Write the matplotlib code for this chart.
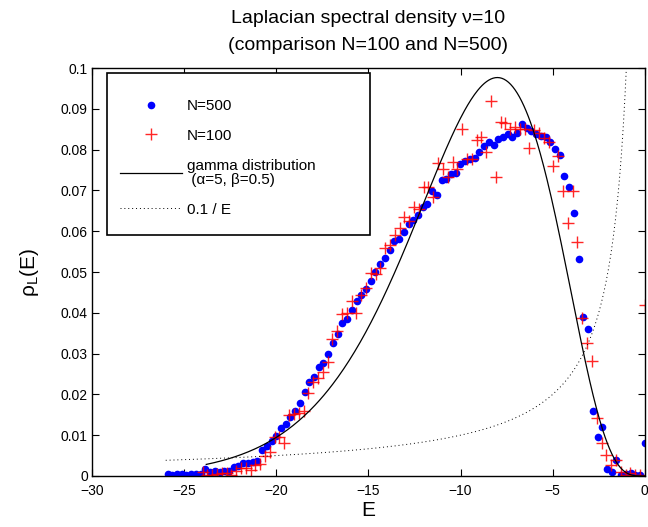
import numpy as np
import matplotlib
matplotlib.use("Agg")
import matplotlib.pyplot as plt
from matplotlib.patches import Rectangle
from math import gamma as gamma_fn

plt.rcParams['font.family'] = ['Liberation Sans', 'DejaVu Sans']
plt.rcParams['mathtext.fontset'] = 'custom'
plt.rcParams['mathtext.rm'] = 'Liberation Sans'
plt.rcParams['mathtext.it'] = 'Liberation Sans'

# ---- data ----
E500 = np.linspace(-25.9, 0.0, 102)
rho500 = [0.0004, 0.0003, 0.0004, 0.0004, 0.0003, 0.0004, 0.0004, 0.0005, 0.0016, 0.0010,
          0.0011, 0.0010, 0.0012, 0.0013, 0.0023, 0.0025, 0.0031, 0.0033, 0.0035, 0.0036,
          0.0064, 0.0074, 0.0085, 0.0098, 0.0118, 0.0127, 0.0145, 0.0160, 0.0180, 0.0205,
          0.0230, 0.0243, 0.0268, 0.0278, 0.0298, 0.0326, 0.0348, 0.0375, 0.0385, 0.0408,
          0.0428, 0.0444, 0.0458, 0.0478, 0.0500, 0.0520, 0.0535, 0.0555, 0.0577, 0.0580,
          0.0598, 0.0618, 0.0628, 0.0640, 0.0660, 0.0667, 0.0698, 0.0690, 0.0725, 0.0728,
          0.0740, 0.0743, 0.0765, 0.0773, 0.0778, 0.0780, 0.0795, 0.0810, 0.0818, 0.0812,
          0.0826, 0.0832, 0.0838, 0.0832, 0.0842, 0.0863, 0.0852, 0.0845, 0.0838, 0.0834,
          0.0830, 0.0820, 0.0802, 0.0788, 0.0735, 0.0708, 0.0645, 0.0532, 0.0390, 0.0360,
          0.0160, 0.0096, 0.0121, 0.0017, 0.0010, 0.0039, 0.0003, 0.0005, 0.0007, 0.0003,
          0.0002, 0.0080]

E100 = np.linspace(-24.0, 0.0, 93)
rho100 = [0.0010, 0.0003, 0.0003, 0.0005, 0.0007, 0.0008, 0.0003, 0.0012, 0.0020, 0.0020,
          0.0015, 0.0028, 0.0030, 0.0050, 0.0060, 0.0095, 0.0096, 0.0080, 0.0150, 0.0152,
          0.0154, 0.0160, 0.0203, 0.0230, 0.0240, 0.0255, 0.0280, 0.0336, 0.0355, 0.0397,
          0.0400, 0.0430, 0.0400, 0.0444, 0.0460, 0.0497, 0.0495, 0.0510, 0.0559, 0.0566,
          0.0590, 0.0608, 0.0635, 0.0625, 0.0660, 0.0655, 0.0708, 0.0708, 0.0684, 0.0767,
          0.0752, 0.0733, 0.0770, 0.0752, 0.0850, 0.0777, 0.0777, 0.0824, 0.0830, 0.0794,
          0.0920, 0.0733, 0.0868, 0.0865, 0.0850, 0.0855, 0.0850, 0.0850, 0.0804, 0.0848,
          0.0840, 0.0828, 0.0820, 0.0760, 0.0784, 0.0698, 0.0620, 0.0698, 0.0574, 0.0387,
          0.0326, 0.0282, 0.0142, 0.0081, 0.0052, 0.0027, 0.0039, 0.0010, 0.0003, 0.0008,
          0.0003, 0.0003, 0.0420]

alpha_g = 5
beta_g = 0.5
E_gamma = np.linspace(-23.8, 0.0, 400)
x = -E_gamma
rho_gamma = beta_g**alpha_g * x**(alpha_g - 1) * np.exp(-beta_g * x) / gamma_fn(alpha_g)

E_inv = np.linspace(-26.0, -0.5, 400)
rho_inv = 0.1 / np.abs(E_inv)

xticks = [-30, -25, -20, -15, -10, -5, 0]
yticks = [0, 0.01, 0.02, 0.03, 0.04, 0.05, 0.06, 0.07, 0.08, 0.09, 0.1]
yticklabels = ["0", "0.01", "0.02", "0.03", "0.04", "0.05", "0.06", "0.07", "0.08", "0.09", "0.1"]

# ---- figure ----
fig = plt.figure(figsize=(6.48, 5.27), dpi=100)
ax = fig.add_axes([0.142, 0.0968, 0.853, 0.774])

ax.plot(E500, rho500, 'o', color='#0000ff', markersize=5.5, markeredgewidth=0,
        label='N=500')
ax.plot(E100, rho100, '+', color='#ff0000', markersize=9, markeredgewidth=1.0,
        alpha=0.85, label='N=100')
ax.plot(E_gamma, rho_gamma, '-', color='black', linewidth=0.9,
        label='gamma distribution\n (α=5, β=0.5)')
ax.plot(E_inv, rho_inv, linestyle=(0, (1, 3)), color='black', linewidth=0.7,
        label='0.1 / E')

ax.set_xlim(-30, 0)
ax.set_ylim(0, 0.1)
ax.set_xticks(xticks)
ax.set_xticklabels([str(t).replace('-', '\u2212') for t in xticks], fontsize=10)
ax.set_yticks(yticks)
ax.set_yticklabels(yticklabels, fontsize=10)
ax.tick_params(direction='in', length=5, width=0.8, top=True, right=True)
ax.tick_params(axis='x', pad=6)
ax.tick_params(axis='y', pad=3)
for s in ax.spines.values():
    s.set_linewidth(1.0)

ax.set_xlabel('E', fontsize=15, labelpad=2)
ax.set_ylabel(r'ρ$_{\rm L}$(E)', fontsize=15, labelpad=14)
ax.set_title('Laplacian spectral density ν=10\n(comparison N=100 and N=500)',
             fontsize=14, pad=13, linespacing=1.75)

# legend box (frame drawn separately, MATLAB style)
frame = Rectangle((0.0271, 0.5907), 0.4756, 0.397, transform=ax.transAxes,
                  facecolor='white', edgecolor='black', linewidth=1.2, zorder=4)
ax.add_patch(frame)
leg = ax.legend(loc='upper left', bbox_to_anchor=(0.0506, 0.924),
                borderaxespad=0, borderpad=0, fontsize=11, frameon=False,
                handlelength=4.05, labelspacing=1.03, handletextpad=0.33)
leg.set_zorder(5)
for t in leg.get_texts():
    t.set_linespacing(1.05)

fig.savefig('out.png', dpi=100)
